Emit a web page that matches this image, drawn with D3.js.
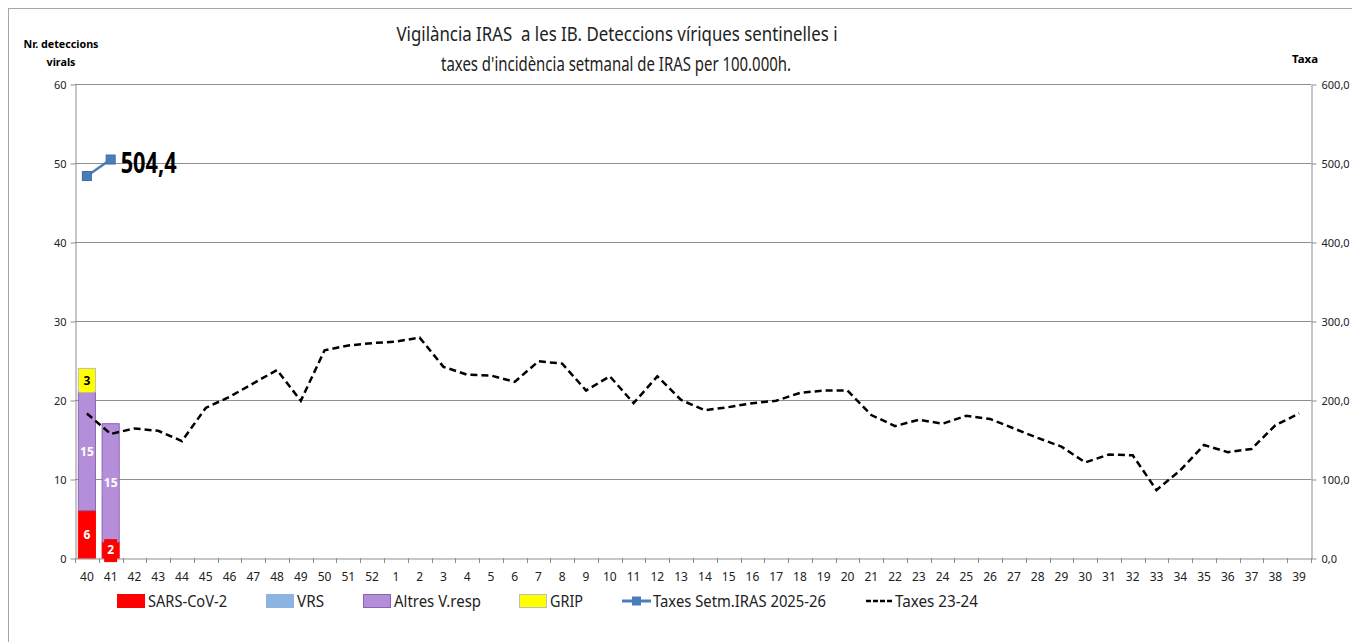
<!DOCTYPE html>
<html>
<head>
<meta charset="utf-8">
<script src="https://cdn.jsdelivr.net/npm/d3@7"></script>
<style>
body { margin: 0; background: #ffffff; }
svg { display: block; font-family: "Noto Sans", "Open Sans", sans-serif; }
</style>
</head>
<body>
<svg id="chart"></svg>
<script>
// weeks of the season, 40 .. 52 then 1 .. 39
var weeks = ["40","41","42","43","44","45","46","47","48","49","50","51","52",
    "1","2","3","4","5","6","7","8","9","10","11","12","13","14","15","16","17","18","19","20",
    "21","22","23","24","25","26","27","28","29","30","31","32","33","34","35","36","37","38","39"]

// viral detections (left axis), only weeks 40 and 41 so far
var sarsCov2 = [6, 2]
var vrs = [0, 0]
var altres = [15, 15]
var grip = [3, 0]

// rates per 100.000 (right axis)
var taxes2526 = [483.5, 504.4]
var taxes2324 = [183, 157, 164, 161, 148, 190, 204, 221, 238, 199, 263, 269, 272,
    274, 279, 242, 232, 231, 223, 249, 246, 212, 230, 196, 230, 200, 187, 191, 196, 199, 209, 212, 212,
    181, 167, 175, 170, 180, 176, 164, 152, 141, 121, 131, 130, 86, 111, 143, 134, 138, 168, 183]

var leftTicks = [0, 10, 20, 30, 40, 50, 60]
var rightTicks = [0, 100, 200, 300, 400, 500, 600]

var seriesNames = ["SARS-CoV-2", "VRS", "Altres V.resp", "GRIP"]

var screen = { width: 1352, height: 642 }
var margins = { left: 75, right: 41, top: 84, bottom: 84 }
var graph = {
    width: screen.width - margins.left - margins.right,
    height: screen.height - margins.top - margins.bottom
}

var colors = {
    "SARS-CoV-2": "#ff0000",
    "VRS": "#8db3e2",
    "Altres V.resp": "#b58ed9",
    "GRIP": "#ffff00"
}
var outlines = {
    "SARS-CoV-2": "#ff0000",
    "VRS": "#8db3e2",
    "Altres V.resp": "#8a63b8",
    "GRIP": "#bdbdbd"
}
var gridColor = "#8f8f8f"

var svg = d3.select("#chart")
    .attr("width", screen.width)
    .attr("height", screen.height)

// outer chart border
svg.append("rect")
    .attr("x", 8.5).attr("y", 8.5)
    .attr("width", screen.width + 20).attr("height", screen.height + 20)
    .attr("fill", "none")
    .attr("stroke", "#a6a6a6")

var xScale = d3.scaleBand()
    .domain(weeks)
    .range([margins.left, margins.left + graph.width])

var yLeft = d3.scaleLinear()
    .domain([0, 60])
    .range([margins.top + graph.height, margins.top])

var yRight = d3.scaleLinear()
    .domain([0, 600])
    .range([margins.top + graph.height, margins.top])

var makeTranslateString = function (x, y) {
    return "translate(" + x + "," + y + ")";
}

// gridlines
svg.append("g")
    .selectAll("line")
    .data(leftTicks.slice(1))
    .enter()
    .append("line")
    .attr("x1", margins.left)
    .attr("x2", margins.left + graph.width)
    .attr("y1", function (d) { return Math.round(yLeft(d)) + 0.5 })
    .attr("y2", function (d) { return Math.round(yLeft(d)) + 0.5 })
    .attr("stroke", gridColor)

// axes
var styleAxis = function (g) {
    g.select(".domain").attr("stroke", gridColor)
    g.selectAll(".tick line").attr("stroke", gridColor)
    g.selectAll(".tick text").attr("fill", "#222").attr("font-size", 11)
        .attr("font-family", "'Noto Sans', sans-serif")
}

var leftAxis = d3.axisLeft(yLeft)
    .tickValues(leftTicks)
    .tickSize(5)
    .tickSizeOuter(0)
    .tickPadding(4)
svg.append("g")
    .attr("transform", makeTranslateString(margins.left + 0.5, 0.5))
    .call(leftAxis)
    .call(styleAxis)

var rightAxis = d3.axisRight(yRight)
    .tickValues(rightTicks)
    .tickFormat(function (d) { return d3.format(".1f")(d).replace(".", ",") })
    .tickSize(5)
    .tickSizeOuter(0)
    .tickPadding(5)
svg.append("g")
    .attr("transform", makeTranslateString(margins.left + graph.width + 0.5, 0.5))
    .call(rightAxis)
    .call(styleAxis)

var xAxis = d3.axisBottom(xScale)
    .tickSize(0)
    .tickPadding(14)
var xg = svg.append("g")
    .attr("transform", makeTranslateString(0, margins.top + graph.height + 0.5))
    .call(xAxis)
    .call(styleAxis)
xg.selectAll(".tick text").attr("font-size", 12)

// tick marks between categories
svg.append("g")
    .selectAll("line")
    .data(weeks.concat(["end"]))
    .enter()
    .append("line")
    .attr("x1", function (d, i) { return Math.round(margins.left + i * xScale.step()) + 0.5 })
    .attr("x2", function (d, i) { return Math.round(margins.left + i * xScale.step()) + 0.5 })
    .attr("y1", margins.top + graph.height)
    .attr("y2", margins.top + graph.height + 5)
    .attr("stroke", gridColor)

// stacked bars
var barRows = weeks.slice(0, sarsCov2.length).map(function (w, i) {
    return { week: w, "SARS-CoV-2": sarsCov2[i], "VRS": vrs[i], "Altres V.resp": altres[i], "GRIP": grip[i] }
})
var stacked = d3.stack().keys(seriesNames)(barRows)
var barWidth = xScale.bandwidth() * 0.72

var layers = svg.append("g")
    .selectAll("g")
    .data(stacked)
    .enter()
    .append("g")
    .attr("fill", function (s) { return colors[s.key] })
    .attr("stroke", function (s) { return outlines[s.key] })

layers.selectAll("rect")
    .data(function (s) { return s.filter(function (d) { return d[1] > d[0] }) })
    .enter()
    .append("rect")
    .attr("x", function (d) { return xScale(d.data.week) + (xScale.bandwidth() - barWidth) / 2 })
    .attr("width", barWidth)
    .attr("y", function (d) { return yLeft(d[1]) })
    .attr("height", function (d) { return yLeft(d[0]) - yLeft(d[1]) })

// data labels with a box in the series colour, drawn above all bars
var labelData = []
stacked.forEach(function (s) {
    s.forEach(function (d) {
        if (d[1] > d[0]) labelData.push({ key: s.key, d: d })
    })
})
var labels = svg.append("g")
    .selectAll("g")
    .data(labelData)
    .enter()
    .append("g")
    .attr("transform", function (l) {
        return makeTranslateString(xScale(l.d.data.week) + xScale.bandwidth() / 2,
            (yLeft(l.d[0]) + yLeft(l.d[1])) / 2)
    })
labels.append("rect")
    .attr("x", function (l) { return String(l.d[1] - l.d[0]).length > 1 ? -8 : -6.5 })
    .attr("y", -11)
    .attr("width", function (l) { return String(l.d[1] - l.d[0]).length > 1 ? 16 : 13 })
    .attr("height", 23)
    .attr("fill", function (l) { return colors[l.key] })
labels.append("text")
    .text(function (l) { return l.d[1] - l.d[0] })
    .attr("text-anchor", "middle")
    .attr("dy", "0.36em")
    .attr("font-size", 12)
    .attr("font-weight", "bold")
    .attr("fill", function (l) { return l.key == "GRIP" ? "#000" : "#fff" })

// dashed line 23-24
var lineOld = d3.line()
    .x(function (v, i) { return xScale(weeks[i]) + xScale.bandwidth() / 2 })
    .y(function (v) { return yRight(v) })
svg.append("path")
    .datum(taxes2324)
    .attr("d", lineOld)
    .attr("fill", "none")
    .attr("stroke", "#000")
    .attr("stroke-width", 2.5)
    .attr("stroke-dasharray", "7,4")

// current season rate line
svg.append("path")
    .datum(taxes2526)
    .attr("d", lineOld)
    .attr("fill", "none")
    .attr("stroke", "#4a7ebb")
    .attr("stroke-width", 2.5)
svg.append("g")
    .selectAll("rect")
    .data(taxes2526)
    .enter()
    .append("rect")
    .attr("x", function (v, i) { return xScale(weeks[i]) + xScale.bandwidth() / 2 - 4.5 })
    .attr("y", function (v) { return yRight(v) - 4.5 })
    .attr("width", 9)
    .attr("height", 9)
    .attr("fill", "#4a7ebb")
    .attr("stroke", "#3d6ba3")

var lastIdx = taxes2526.length - 1
svg.append("text")
    .text(d3.format(".1f")(taxes2526[lastIdx]).replace(".", ","))
    .attr("x", xScale(weeks[lastIdx]) + xScale.bandwidth() / 2 + 10)
    .attr("y", yRight(taxes2526[lastIdx]) + 13)
    .attr("font-size", 29)
    .attr("font-weight", "bold")
    .attr("textLength", 56)
    .attr("lengthAdjust", "spacingAndGlyphs")

// titles
var titles = svg.append("g")
titles.append("text")
    .text("Vigilància IRAS  a les IB. Deteccions víriques sentinelles i")
    .attr("x", 617).attr("y", 41)
    .attr("text-anchor", "middle")
    .attr("font-size", 19)
    .attr("fill", "#222")
    .attr("xml:space", "preserve")
    .attr("textLength", 441)
    .attr("lengthAdjust", "spacingAndGlyphs")
titles.append("text")
    .text("taxes d'incidència setmanal de IRAS per 100.000h.")
    .attr("x", 616).attr("y", 71)
    .attr("text-anchor", "middle")
    .attr("font-size", 19)
    .attr("fill", "#222")
    .attr("textLength", 350)
    .attr("lengthAdjust", "spacingAndGlyphs")

titles.append("text")
    .text("Nr. deteccions")
    .attr("x", 61).attr("y", 48)
    .attr("text-anchor", "middle")
    .attr("font-size", 11).attr("font-weight", "bold")
    .attr("textLength", 75).attr("lengthAdjust", "spacingAndGlyphs")
titles.append("text")
    .text("virals")
    .attr("x", 61).attr("y", 66)
    .attr("text-anchor", "middle")
    .attr("font-size", 11).attr("font-weight", "bold")
    .attr("textLength", 29).attr("lengthAdjust", "spacingAndGlyphs")
titles.append("text")
    .text("Taxa")
    .attr("x", 1305).attr("y", 63)
    .attr("text-anchor", "middle")
    .attr("font-size", 11).attr("font-weight", "bold")
    .attr("textLength", 26).attr("lengthAdjust", "spacingAndGlyphs")

// legend
var legendItems = [
    { name: "SARS-CoV-2", type: "box", x: 117, tw: 79 },
    { name: "VRS", type: "box", x: 266, tw: 27 },
    { name: "Altres V.resp", type: "box", x: 363, tw: 87 },
    { name: "GRIP", type: "box", x: 519, tw: 33 },
    { name: "Taxes Setm.IRAS 2025-26", type: "marker", x: 622, tw: 173 },
    { name: "Taxes 23-24", type: "dash", x: 866, tw: 83 }
]
var legend = svg.append("g")
    .attr("transform", makeTranslateString(0, 601))
var entries = legend.selectAll("g")
    .data(legendItems)
    .enter()
    .append("g")
    .attr("transform", function (e) { return makeTranslateString(e.x, 0) })

entries.filter(function (e) { return e.type == "box" })
    .append("rect")
    .attr("x", 0.5).attr("y", -6.5)
    .attr("width", 27).attr("height", 13)
    .attr("fill", function (e) { return colors[e.name] })
    .attr("stroke", function (e) { return outlines[e.name] })

var markerEntry = entries.filter(function (e) { return e.type == "marker" })
markerEntry.append("line")
    .attr("x1", 0).attr("x2", 29).attr("y1", 0).attr("y2", 0)
    .attr("stroke", "#4a7ebb").attr("stroke-width", 3)
markerEntry.append("rect")
    .attr("x", 10).attr("y", -4.5).attr("width", 9).attr("height", 9)
    .attr("fill", "#4a7ebb")

entries.filter(function (e) { return e.type == "dash" })
    .append("line")
    .attr("x1", 0).attr("x2", 26).attr("y1", 0).attr("y2", 0)
    .attr("stroke", "#000").attr("stroke-width", 2.5)
    .attr("stroke-dasharray", "5,2")

entries.append("text")
    .text(function (e) { return e.name })
    .attr("x", function (e) { return e.type == "dash" ? 29 : 31 })
    .attr("y", 6)
    .attr("font-size", 16)
    .attr("fill", "#222")
    .attr("textLength", function (e) { return e.tw })
    .attr("lengthAdjust", "spacingAndGlyphs")
</script>
</body>
</html>
